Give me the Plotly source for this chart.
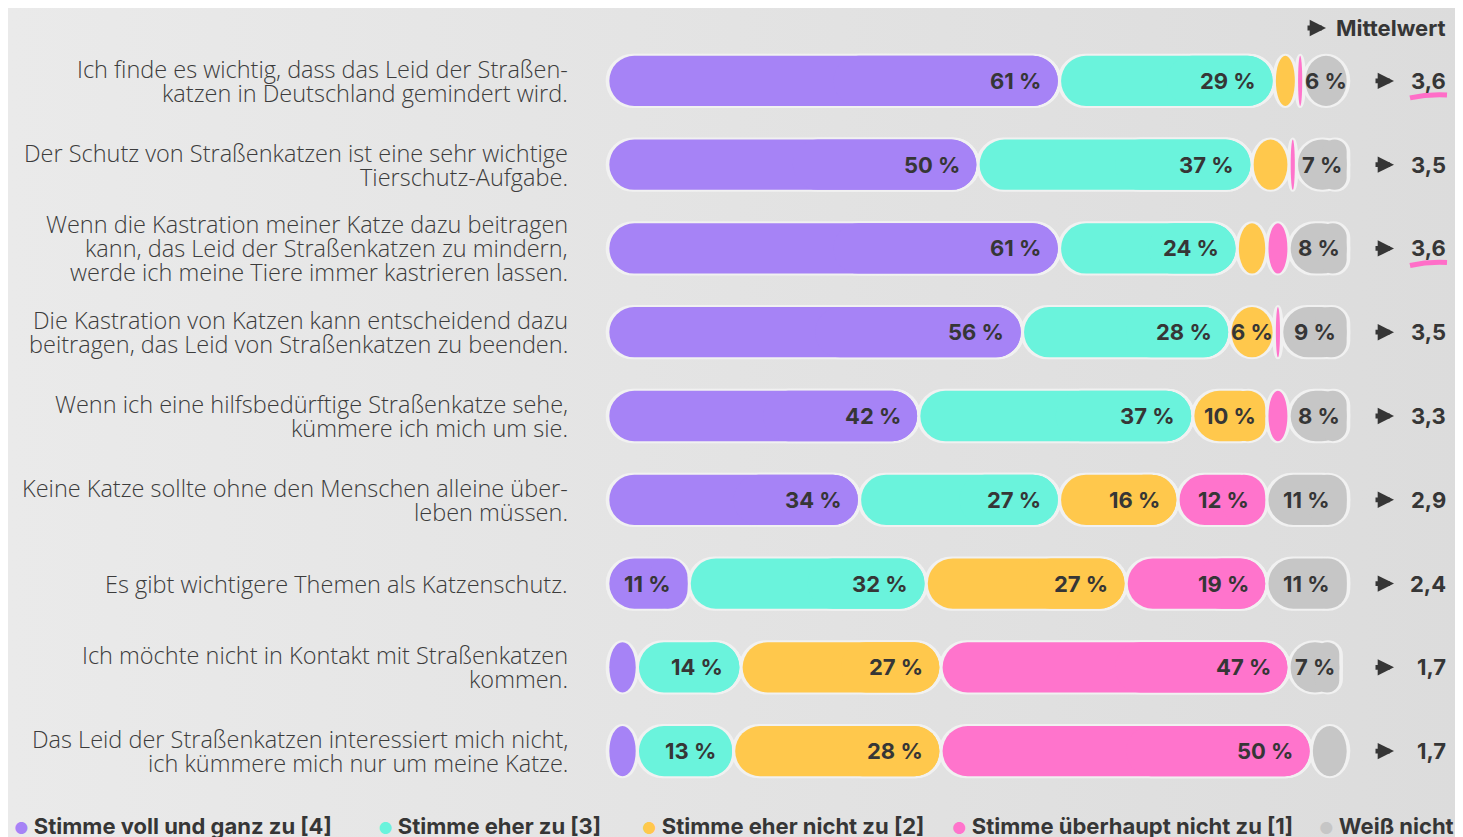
import base64
import plotly.graph_objects as go

# ---------------- data ----------------
statements = [
    "Ich finde es wichtig, dass das Leid der Straßen-<br>katzen in Deutschland gemindert wird.",
    "Der Schutz von Straßenkatzen ist eine sehr wichtige<br>Tierschutz-Aufgabe.",
    "Wenn die Kastration meiner Katze dazu beitragen<br>kann, das Leid der Straßenkatzen zu mindern,<br>werde ich meine Tiere immer kastrieren lassen.",
    "Die Kastration von Katzen kann entscheidend dazu<br>beitragen, das Leid von Straßenkatzen zu beenden.",
    "Wenn ich eine hilfsbedürftige Straßenkatze sehe,<br>kümmere ich mich um sie.",
    "Keine Katze sollte ohne den Menschen alleine über-<br>leben müssen.",
    "Es gibt wichtigere Themen als Katzenschutz.",
    "Ich möchte nicht in Kontakt mit Straßenkatzen<br>kommen.",
    "Das Leid der Straßenkatzen interessiert mich nicht,<br>ich kümmere mich nur um meine Katze.",
]
answer_labels = [
    "Stimme voll und ganz zu [4]",
    "Stimme eher zu [3]",
    "Stimme eher nicht zu [2]",
    "Stimme überhaupt nicht zu [1]",
    "Weiß nicht",
]
voll_zu = [61, 50, 61, 56, 42, 34, 11, 4, 4]
eher_zu = [29, 37, 24, 28, 37, 27, 32, 14, 13]
eher_nicht = [3, 5, 4, 6, 10, 16, 27, 27, 28]
gar_nicht = [1, 1, 3, 1, 3, 12, 19, 47, 50]
weiss_nicht = [6, 7, 8, 9, 8, 11, 11, 7, 5]
mean_values = [3.6, 3.5, 3.6, 3.5, 3.3, 2.9, 2.4, 1.7, 1.7]
highlight_rows = [0, 2]
mean_header = "Mittelwert"
label_min = 6  # values shown as text from this size on

# ---------------- style ----------------
colors = ["#a683f6", "#6af3dc", "#ffc84c", "#ff74cc", "#c6c6c6"]
outline_col = "#f1f1f1"
text_col = "#363636"
FONT = "Inter"
LABEL_FONT = "Open Sans"
GAP = 0.22

# the page is drawn with an 8px body margin, so the figure is 8px smaller
W, H = 1455, 829
ML, MR, MT, MB = 596, 111, 31, 44
PW, PH = W - ML - MR, H - MT - MB
X_RANGE = [-0.5, 100.5]
PX_PER_UNIT = PW / (X_RANGE[1] - X_RANGE[0])

series = [voll_zu, eher_zu, eher_nicht, gar_nicht, weiss_nicht]
n = len(statements)
rows = list(range(n))
BW = 0.6
BAR_PX = BW * PH / n

fig = go.Figure()

# cumulative positions
starts, ends = [], []
for k, s in enumerate(series):
    st, en = [], []
    for i in rows:
        base = sum(series[j][i] for j in range(k))
        st.append(base)
        en.append(base + s[i])
    starts.append(st)
    ends.append(en)

def is_small(v):
    return v * PX_PER_UNIT < BAR_PX

shapes = []

def pill(k, color, inset):
    st, en, vals = starts[k], ends[k], series[k]
    a0 = [s + inset for s in st]
    a1 = [e - inset for e in en]
    mid = [(x0 + x1) / 2 for x0, x1 in zip(a0, a1)]
    line = dict(width=4, color=outline_col) if inset == 0 else dict(width=0)
    xa = [None if is_small(v) else -(x1 - x0) for v, x0, x1 in zip(vals, a0, a1)]
    xb = [None if is_small(v) else x1 - m for v, m, x1 in zip(vals, mid, a1)]
    fig.add_trace(go.Bar(
        y=rows, x=xa, base=a1, orientation="h", width=BW,
        marker=dict(color=color, line=line, cornerradius="50%"),
        hoverinfo="skip", showlegend=False, name=answer_labels[k]))
    fig.add_trace(go.Bar(
        y=rows, x=xb, base=mid, orientation="h", width=BW,
        marker=dict(color=color, line=line, cornerradius="50%"),
        hoverinfo="skip", showlegend=False, name=answer_labels[k]))
    # small segments become ellipses
    for i in rows:
        if is_small(vals[i]):
            shapes.append(dict(type="circle", xref="x", yref="y",
                               x0=a0[i], x1=a1[i], y0=i - BW / 2, y1=i + BW / 2,
                               fillcolor=color, line=line,
                               layer="below" if inset == 0 else "above"))

for k in range(len(series)):
    pill(k, outline_col, 0)
for k in range(len(series)):
    pill(k, colors[k], GAP)

annotations = []
num_font = dict(family=FONT, size=22, color=text_col, weight=700)
# value labels inside bars
for k, s in enumerate(series):
    for i in rows:
        v = s[i]
        if v < label_min:
            continue
        if v <= 10:
            annotations.append(dict(x=(starts[k][i] + ends[k][i]) / 2, y=i, xref="x", yref="y",
                                    text=f"{v} %", showarrow=False, xanchor="center",
                                    font=num_font))
        else:
            annotations.append(dict(x=ends[k][i], y=i, xref="x", yref="y", xshift=-16,
                                    text=f"{v} %", showarrow=False, xanchor="right",
                                    font=num_font))

# statement labels (one annotation per line)
for i, lab in enumerate(statements):
    lines = lab.split("<br>")
    nl = len(lines)
    for j, ln in enumerate(lines):
        annotations.append(dict(x=0, y=i, xref="paper", yref="y", xshift=-34,
                                yshift=-(j - (nl - 1) / 2) * 24,
                                text=ln, showarrow=False, xanchor="right", yanchor="middle",
                                font=dict(family=LABEL_FONT, size=23.5, color="#3c3c3c", weight=300)))

def arrow(y, yref, xshift, yshift=0):
    return dict(x=1, y=y, xref="paper", yref=yref, xshift=xshift, yshift=yshift,
                text="", showarrow=True, axref="pixel", ayref="pixel", ax=-20, ay=0,
                arrowhead=2, arrowwidth=4.8, arrowsize=0.68, arrowcolor=text_col,
                standoff=0, startstandoff=0)

# mean column
for i, m in enumerate(mean_values):
    annotations.append(arrow(i, "y", 42))
    annotations.append(dict(x=1, y=i, xref="paper", yref="y", xshift=96,
                            text=f"{m:.1f}".replace(".", ","), showarrow=False, xanchor="right",
                            font=num_font))
annotations.append(arrow(1, "paper", -26, 11))
annotations.append(dict(x=1, y=1, xref="paper", yref="paper", xshift=96, yshift=11,
                        text=mean_header, showarrow=False, xanchor="right", yanchor="middle",
                        font=num_font))

# legend
legend_x = [4, 368, 632, 942, 1309]
for k, lab in enumerate(answer_labels):
    annotations.append(dict(x=(legend_x[k] - ML) / PW, y=0, xref="paper", yref="paper",
                            yshift=-33, xanchor="left", yanchor="middle", showarrow=False,
                            text=f'<span style="color:{colors[k]};font-size:16px">●</span> {lab}',
                            font=dict(family=FONT, size=22, color=text_col, weight=700)))

# pink underline for highlighted means
for i in highlight_rows:
    shapes.append(dict(type="path", xref="paper", yref="y", xsizemode="pixel", ysizemode="pixel",
                       xanchor=1, yanchor=i, path="M58,-17 Q76,-13 95,-14",
                       line=dict(color="#ff6ec8", width=5), layer="above"))

# soft horizontal background gradient
svg = ('<svg xmlns="http://www.w3.org/2000/svg" width="100" height="100" preserveAspectRatio="none">'
       '<defs><linearGradient id="g" x1="0" x2="1" y1="0" y2="0">'
       '<stop offset="0" stop-color="#eaeaea"/><stop offset="1" stop-color="#dcdcdc"/>'
       '</linearGradient></defs><rect width="100" height="100" fill="url(#g)"/></svg>')
bg_src = "data:image/svg+xml;base64," + base64.b64encode(svg.encode()).decode()

fig.update_layout(
    width=W, height=H,
    margin=dict(l=ML, r=MR, t=MT, b=MB),
    barmode="overlay",
    paper_bgcolor="#e4e4e4", plot_bgcolor="rgba(0,0,0,0)",
    xaxis=dict(range=X_RANGE, visible=False, fixedrange=True),
    yaxis=dict(range=[n - 0.5, -0.5], visible=False, fixedrange=True),
    showlegend=False,
    annotations=annotations,
    shapes=shapes,
    images=[dict(source=bg_src, xref="paper", yref="paper",
                 x=-ML / PW, y=1 + MT / PH, sizex=W / PW, sizey=H / PH,
                 xanchor="left", yanchor="top", sizing="stretch", layer="below")],
)

fig.write_html("out.html")
